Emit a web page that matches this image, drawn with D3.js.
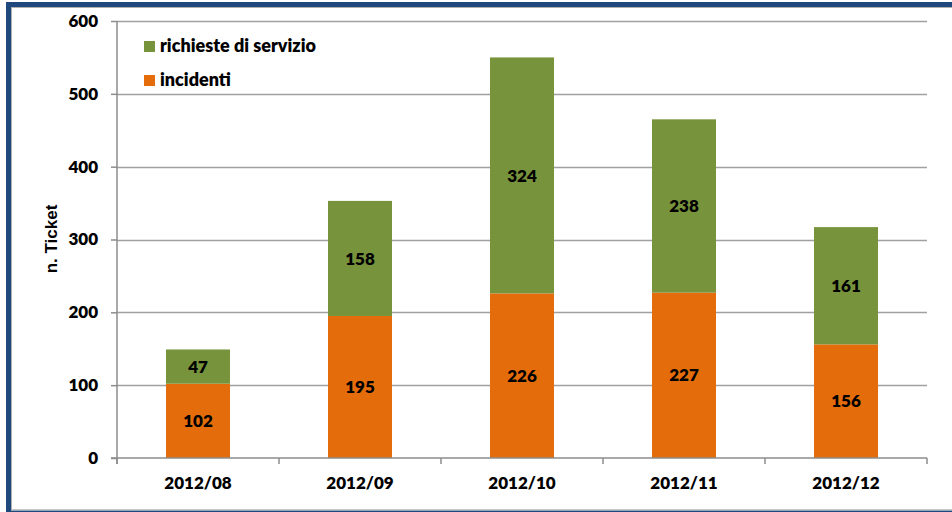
<!DOCTYPE html>
<html>
<head>
<meta charset="utf-8">
<script src="https://cdn.jsdelivr.net/npm/d3@7"></script>
<style>
  html, body { margin: 0; padding: 0; background: #fff; }
  svg { display: block; }
  text { font-family: Lato, "Open Sans", sans-serif; font-weight: 800; fill: #000; }
</style>
</head>
<body>
<svg id="chart" width="952" height="512"></svg>
<script>
// Monthly ticket counts
const categories = ["2012/08", "2012/09", "2012/10", "2012/11", "2012/12"];
const incidenti = [102, 195, 226, 227, 156];
const richieste = [47, 158, 324, 238, 161];
const yTicks = [0, 100, 200, 300, 400, 500, 600];
const seriesNames = ["richieste di servizio", "incidenti"];
const colors = { incidenti: "#E46C0A", richieste: "#77933C" };

const svg = d3.select("#chart");
const W = 952, H = 512;
const margin = { left: 117, right: 25, top: 21, bottom: 54 };

// Frame
svg.append("rect").attr("x", 6).attr("y", 2).attr("width", W - 6).attr("height", 5).attr("fill", "#1F497D");
svg.append("rect").attr("x", 6).attr("y", 2).attr("width", 5).attr("height", H - 2).attr("fill", "#1F497D");
svg.append("rect").attr("x", 6).attr("y", 510.5).attr("width", W - 6).attr("height", 2).attr("fill", "#1F497D");
svg.append("line").attr("x1", 11.5).attr("x2", 11.5).attr("y1", 7).attr("y2", 510).attr("stroke", "#B0B0B0").attr("stroke-width", 1);
svg.append("line").attr("x1", 11).attr("x2", W).attr("y1", 7.5).attr("y2", 7.5).attr("stroke", "#B0B0B0").attr("stroke-width", 1);
svg.append("line").attr("x1", 11).attr("x2", W).attr("y1", 509.8).attr("y2", 509.8).attr("stroke", "#B0B0B0").attr("stroke-width", 1);

const x = d3.scaleBand()
  .domain(categories)
  .range([margin.left, W - margin.right])
  .paddingInner(0.605)
  .paddingOuter(0.3025);

const y = d3.scaleLinear()
  .domain([0, 600])
  .range([H - margin.bottom, margin.top]);

// Gridlines
svg.append("g")
  .selectAll("line")
  .data(yTicks.filter(d => d > 0))
  .join("line")
  .attr("x1", margin.left)
  .attr("x2", W - margin.right)
  .attr("y1", d => Math.round(y(d)) + 0.5)
  .attr("y2", d => Math.round(y(d)) + 0.5)
  .attr("stroke", "#A0A0A0")
  .attr("stroke-width", 1.5);

// Stacked bars
const rows = categories.map((c, i) => ({ cat: c, incidenti: incidenti[i], richieste: richieste[i] }));
const stack = d3.stack().keys(["incidenti", "richieste"])(rows);

const layers = svg.append("g")
  .selectAll("g")
  .data(stack)
  .join("g")
  .attr("fill", d => colors[d.key]);

layers.selectAll("rect")
  .data(d => d)
  .join("rect")
  .attr("x", d => x(d.data.cat))
  .attr("width", x.bandwidth())
  .attr("y", d => y(d[1]))
  .attr("height", d => y(d[0]) - y(d[1]));

// Value labels
layers.selectAll("text")
  .data(d => d)
  .join("text")
  .attr("x", d => x(d.data.cat) + x.bandwidth() / 2)
  .attr("y", d => (y(d[0]) + y(d[1])) / 2)
  .attr("dy", "0.36em")
  .attr("text-anchor", "middle")
  .attr("font-size", 17)
  .style("fill", "#000")
  .text(d => d[1] - d[0]);

// Y axis
const yAxis = d3.axisLeft(y).tickValues(yTicks).tickSize(6).tickPadding(13);
const gy = svg.append("g").attr("transform", `translate(${margin.left},0)`).call(yAxis);
gy.select(".domain").attr("stroke", "#8C8C8C").attr("stroke-width", 1.5).attr("d", `M0,${y(600)}V${y(0) + 6}`);
gy.selectAll(".tick line").attr("stroke", "#8C8C8C").attr("stroke-width", 1.5);
gy.selectAll(".tick text").attr("font-size", 17).style("font-family", "Lato, sans-serif").style("font-weight", 800).attr("fill", "#000");

// X axis with boundary ticks
const gx = svg.append("g");
gx.append("line")
  .attr("x1", margin.left - 6).attr("x2", W - margin.right)
  .attr("y1", y(0)).attr("y2", y(0))
  .attr("stroke", "#8C8C8C").attr("stroke-width", 1.5);
const step = x.step();
const bounds = d3.range(categories.length + 1).map(i => margin.left + i * step);
gx.selectAll("line.bt")
  .data(bounds)
  .join("line")
  .attr("class", "bt")
  .attr("x1", d => d).attr("x2", d => d)
  .attr("y1", y(0)).attr("y2", y(0) + 6)
  .attr("stroke", "#8C8C8C").attr("stroke-width", 1.5);
gx.selectAll("text")
  .data(categories)
  .join("text")
  .attr("x", d => x(d) + x.bandwidth() / 2)
  .attr("y", 489)
  .attr("text-anchor", "middle")
  .attr("font-size", 17)
  .text(d => d);

// Y axis title
svg.append("text")
  .attr("transform", "translate(57,239) rotate(-90)")
  .attr("text-anchor", "middle")
  .style("font-family", "'Liberation Sans', Arial, sans-serif")
  .style("font-weight", 700)
  .attr("font-size", 17)
  .text("n. Ticket");

// Legend
const legend = svg.append("g");
const legendItems = [
  { name: seriesNames[0], color: colors.richieste, y: 41 },
  { name: seriesNames[1], color: colors.incidenti, y: 75 }
];
legend.selectAll("rect")
  .data(legendItems)
  .join("rect")
  .attr("x", 144).attr("y", d => d.y)
  .attr("width", 11).attr("height", 11)
  .attr("fill", d => d.color);
legend.selectAll("text")
  .data(legendItems)
  .join("text")
  .attr("x", 160).attr("y", d => d.y + 11)
  .attr("font-size", 18)
  .text(d => d.name);
</script>
</body>
</html>
